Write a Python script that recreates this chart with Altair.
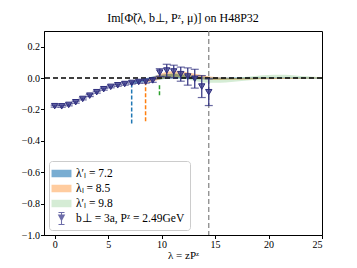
import altair as alt
import pandas as pd

# data points: lambda = z P^z
lam = [0.0, 0.655, 1.31, 1.965, 2.62, 3.275, 3.93, 4.585, 5.24, 5.895, 6.55, 7.205,
       7.86, 8.515, 9.17, 9.825, 10.48, 11.135, 11.79, 12.445, 13.1, 13.755, 14.41]
val = [-0.179, -0.180, -0.171, -0.154, -0.133, -0.112, -0.090, -0.071, -0.056, -0.046,
       -0.038, -0.031, -0.025, -0.023, -0.015, 0.035, 0.048, 0.042, 0.025, 0.010,
       -0.004, -0.054, -0.090]
err = [0.006, 0.006, 0.006, 0.006, 0.006, 0.006, 0.006, 0.006, 0.006, 0.006,
       0.007, 0.007, 0.008, 0.009, 0.012, 0.025, 0.040, 0.040, 0.045, 0.055,
       0.060, 0.070, 0.085]

blue_x = [7.2, 8, 9, 10, 11, 12, 13, 14, 15, 16, 18, 20, 22, 25]
blue_c = [-0.03, -0.02, -0.005, 0.008, 0.012, 0.008, 0.003, 0.0, -0.002, -0.002, 0.0, 0.0, 0.0, 0.0]
blue_h = [0.008, 0.01, 0.012, 0.015, 0.015, 0.012, 0.01, 0.008, 0.006, 0.005, 0.004, 0.003, 0.003, 0.002]

orange_x = [8.5, 9.5, 10.5, 11.5, 12.5, 13.5, 14.5, 15.5, 17, 19, 21, 23, 25]
orange_c = [-0.02, 0.0, 0.02, 0.025, 0.018, 0.008, 0.0, -0.004, -0.005, -0.003, -0.002, -0.001, 0.0]
orange_h = [0.01, 0.015, 0.02, 0.02, 0.018, 0.015, 0.01, 0.008, 0.006, 0.005, 0.004, 0.003, 0.003]

green_x = [9.8, 10.5, 11.5, 12.5, 13.5, 14.5, 15.5, 16.5, 17.5, 18.5, 19.5, 20.5, 21.5, 22.5, 23.5, 25]
green_c = [0.0, 0.012, 0.015, 0.005, -0.008, -0.015, -0.016, -0.012, -0.006, 0.0, 0.006, 0.01, 0.01, 0.007, 0.003, 0.0]
green_h = [0.01, 0.013, 0.015, 0.015, 0.015, 0.015, 0.014, 0.013, 0.012, 0.012, 0.012, 0.012, 0.012, 0.01, 0.008, 0.006]

labels = ["λ′ₗ = 7.2", "λₗ = 8.5", "λ′ₗ = 9.8", "b⊥ = 3a, Pᶻ = 2.49GeV"]
fills = ["rgba(31,119,180,0.6)", "rgba(255,127,14,0.4)", "rgba(44,160,44,0.2)",
         "rgba(60,60,140,0.75)"]
line_colors = ["#1f77b4", "#ff7f0e", "#2ca02c"]

vl_x = [7.2, 8.5, 9.8]
vl_top = [-0.035, -0.02, -0.045]
vl_bot = [-0.30, -0.28, -0.11]
vline = 14.41

rows = []
for lab, xs_, cs, hs in zip(labels[:3], [blue_x, orange_x, green_x],
                            [blue_c, orange_c, green_c], [blue_h, orange_h, green_h]):
    for x, c, h in zip(xs_, cs, hs):
        rows.append({"lam": x, "lo": c - h, "hi": c + h, "series": lab})
bands = pd.DataFrame(rows)
pts = pd.DataFrame({"lam": lam, "val": val,
                    "lo": [v - e for v, e in zip(val, err)],
                    "hi": [v + e for v, e in zip(val, err)],
                    "series": labels[3]})
vls = pd.DataFrame({"x": vl_x, "top": vl_top, "bot": vl_bot, "series": labels[:3]})

xs = alt.Scale(domain=[-1, 25], nice=False, zero=False)
ys = alt.Scale(domain=[-1.0, 0.3], nice=False, zero=False)
color_scale = alt.Scale(domain=labels, range=fills)
rect = "M-1.33,-0.5H1.33V0.5H-1.33Z"
ebar_icon = ("M-0.07,-0.8H0.07V0.8H-0.07Z"
             "M-0.4,-0.86H0.4V-0.72H-0.4Z"
             "M-0.4,0.72H0.4V0.86H-0.4Z"
             "M-0.5,-0.55L0.5,-0.55L0,0.4Z")
shape_scale = alt.Scale(domain=labels, range=[rect, rect, rect, ebar_icon])

leg = alt.Legend(title=None, orient="bottom-left", offset=5,
                 fillColor="white", strokeColor="#cccccc",
                 cornerRadius=3, padding=5, labelFontSize=11.5,
                 labelFont="Liberation Serif", symbolSize=225,
                 symbolStrokeWidth=0, labelOffset=7, labelLimit=200,
                 rowPadding=2, values=labels)
C = alt.Color("series:N", scale=color_scale, legend=leg)

yaxis = alt.Axis(values=[-1.0, -0.8, -0.6, -0.4, -0.2, 0.0, 0.2], format=".1f",
                 labelOverlap=False)
xaxis = alt.Axis(values=[0, 5, 10, 15, 20, 25], format="d")
XT = "λ = zPᶻ"

layers = []
for lab in labels[:3]:
    layers.append(
        alt.Chart(bands[bands.series == lab]).mark_area(interpolate="monotone", opacity=1).encode(
            x=alt.X("lam:Q", scale=xs, title=XT, axis=xaxis),
            y=alt.Y("lo:Q", scale=ys, title=None, axis=yaxis), y2="hi:Q", color=C)
    )

for vx, vt, vb, lc in zip(vl_x, vl_top, vl_bot, line_colors):
    layers.append(
        alt.Chart(vls[vls.x == vx]).mark_rule(strokeDash=[4, 2], strokeWidth=1.5, color=lc).encode(
            x=alt.X("x:Q", scale=xs, title=XT, axis=xaxis),
            y=alt.Y("top:Q", scale=ys, title=None, axis=yaxis), y2="bot:Q")
    )

zero = alt.Chart(pd.DataFrame({"y": [0.0]})).mark_rule(
    color="black", strokeDash=[5, 3], strokeWidth=1.5).encode(
    y=alt.Y("y:Q", scale=ys, title=None, axis=yaxis))
gray = alt.Chart(pd.DataFrame({"x": [vline]})).mark_rule(
    color="gray", strokeDash=[5, 3], strokeWidth=1.2).encode(
    x=alt.X("x:Q", scale=xs, title=XT, axis=xaxis))

ebar = alt.Chart(pts).mark_errorbar(ticks=alt.MarkConfig(size=8), color="#2c2c7c", thickness=1.2).encode(
    x=alt.X("lam:Q", scale=xs, title=XT, axis=xaxis),
    y=alt.Y("lo:Q", scale=ys, title=None, axis=yaxis), y2="hi:Q")
points = alt.Chart(pts).mark_point(filled=True, size=40, shape="triangle-down", stroke="#2c2c7c",
                                   strokeWidth=1, opacity=1).encode(
    x=alt.X("lam:Q", scale=xs, title=XT, axis=xaxis),
    y=alt.Y("val:Q", scale=ys, title=None, axis=yaxis), color=C)

# legend-only layer (no rows -> nothing drawn)
legend_layer = alt.Chart(pts.iloc[0:0]).mark_point(filled=True, opacity=1).encode(
    x=alt.X("lam:Q", scale=xs, title=XT, axis=xaxis),
    y=alt.Y("val:Q", scale=ys, title=None, axis=yaxis),
    color=C, shape=alt.Shape("series:N", scale=shape_scale, legend=leg))

chart = alt.layer(*layers, zero, gray, ebar, points, legend_layer).properties(
    width=278, height=204,
    autosize=alt.AutoSizeParams(type="none"),
    padding={"left": 36, "top": 23, "right": 27, "bottom": 25},
    title=alt.TitleParams("Im[Φ̃(λ, b⊥, Pᶻ, μ)] on H48P32", font="Liberation Serif",
                          fontSize=12, fontWeight="normal", offset=5),
).configure_view(stroke="black", strokeWidth=1).configure_axis(
    grid=False, domainColor="black", tickColor="black", labelColor="black",
    labelFont="Liberation Serif", labelFontSize=10, titleFont="Liberation Serif",
    titleFontSize=11, titleFontWeight="normal", titleColor="black", tickSize=3.5,
    labelPadding=1, titlePadding=0, labelOverlap=False)

chart.save("out.html", embed_options={"renderer": "svg", "actions": False})
